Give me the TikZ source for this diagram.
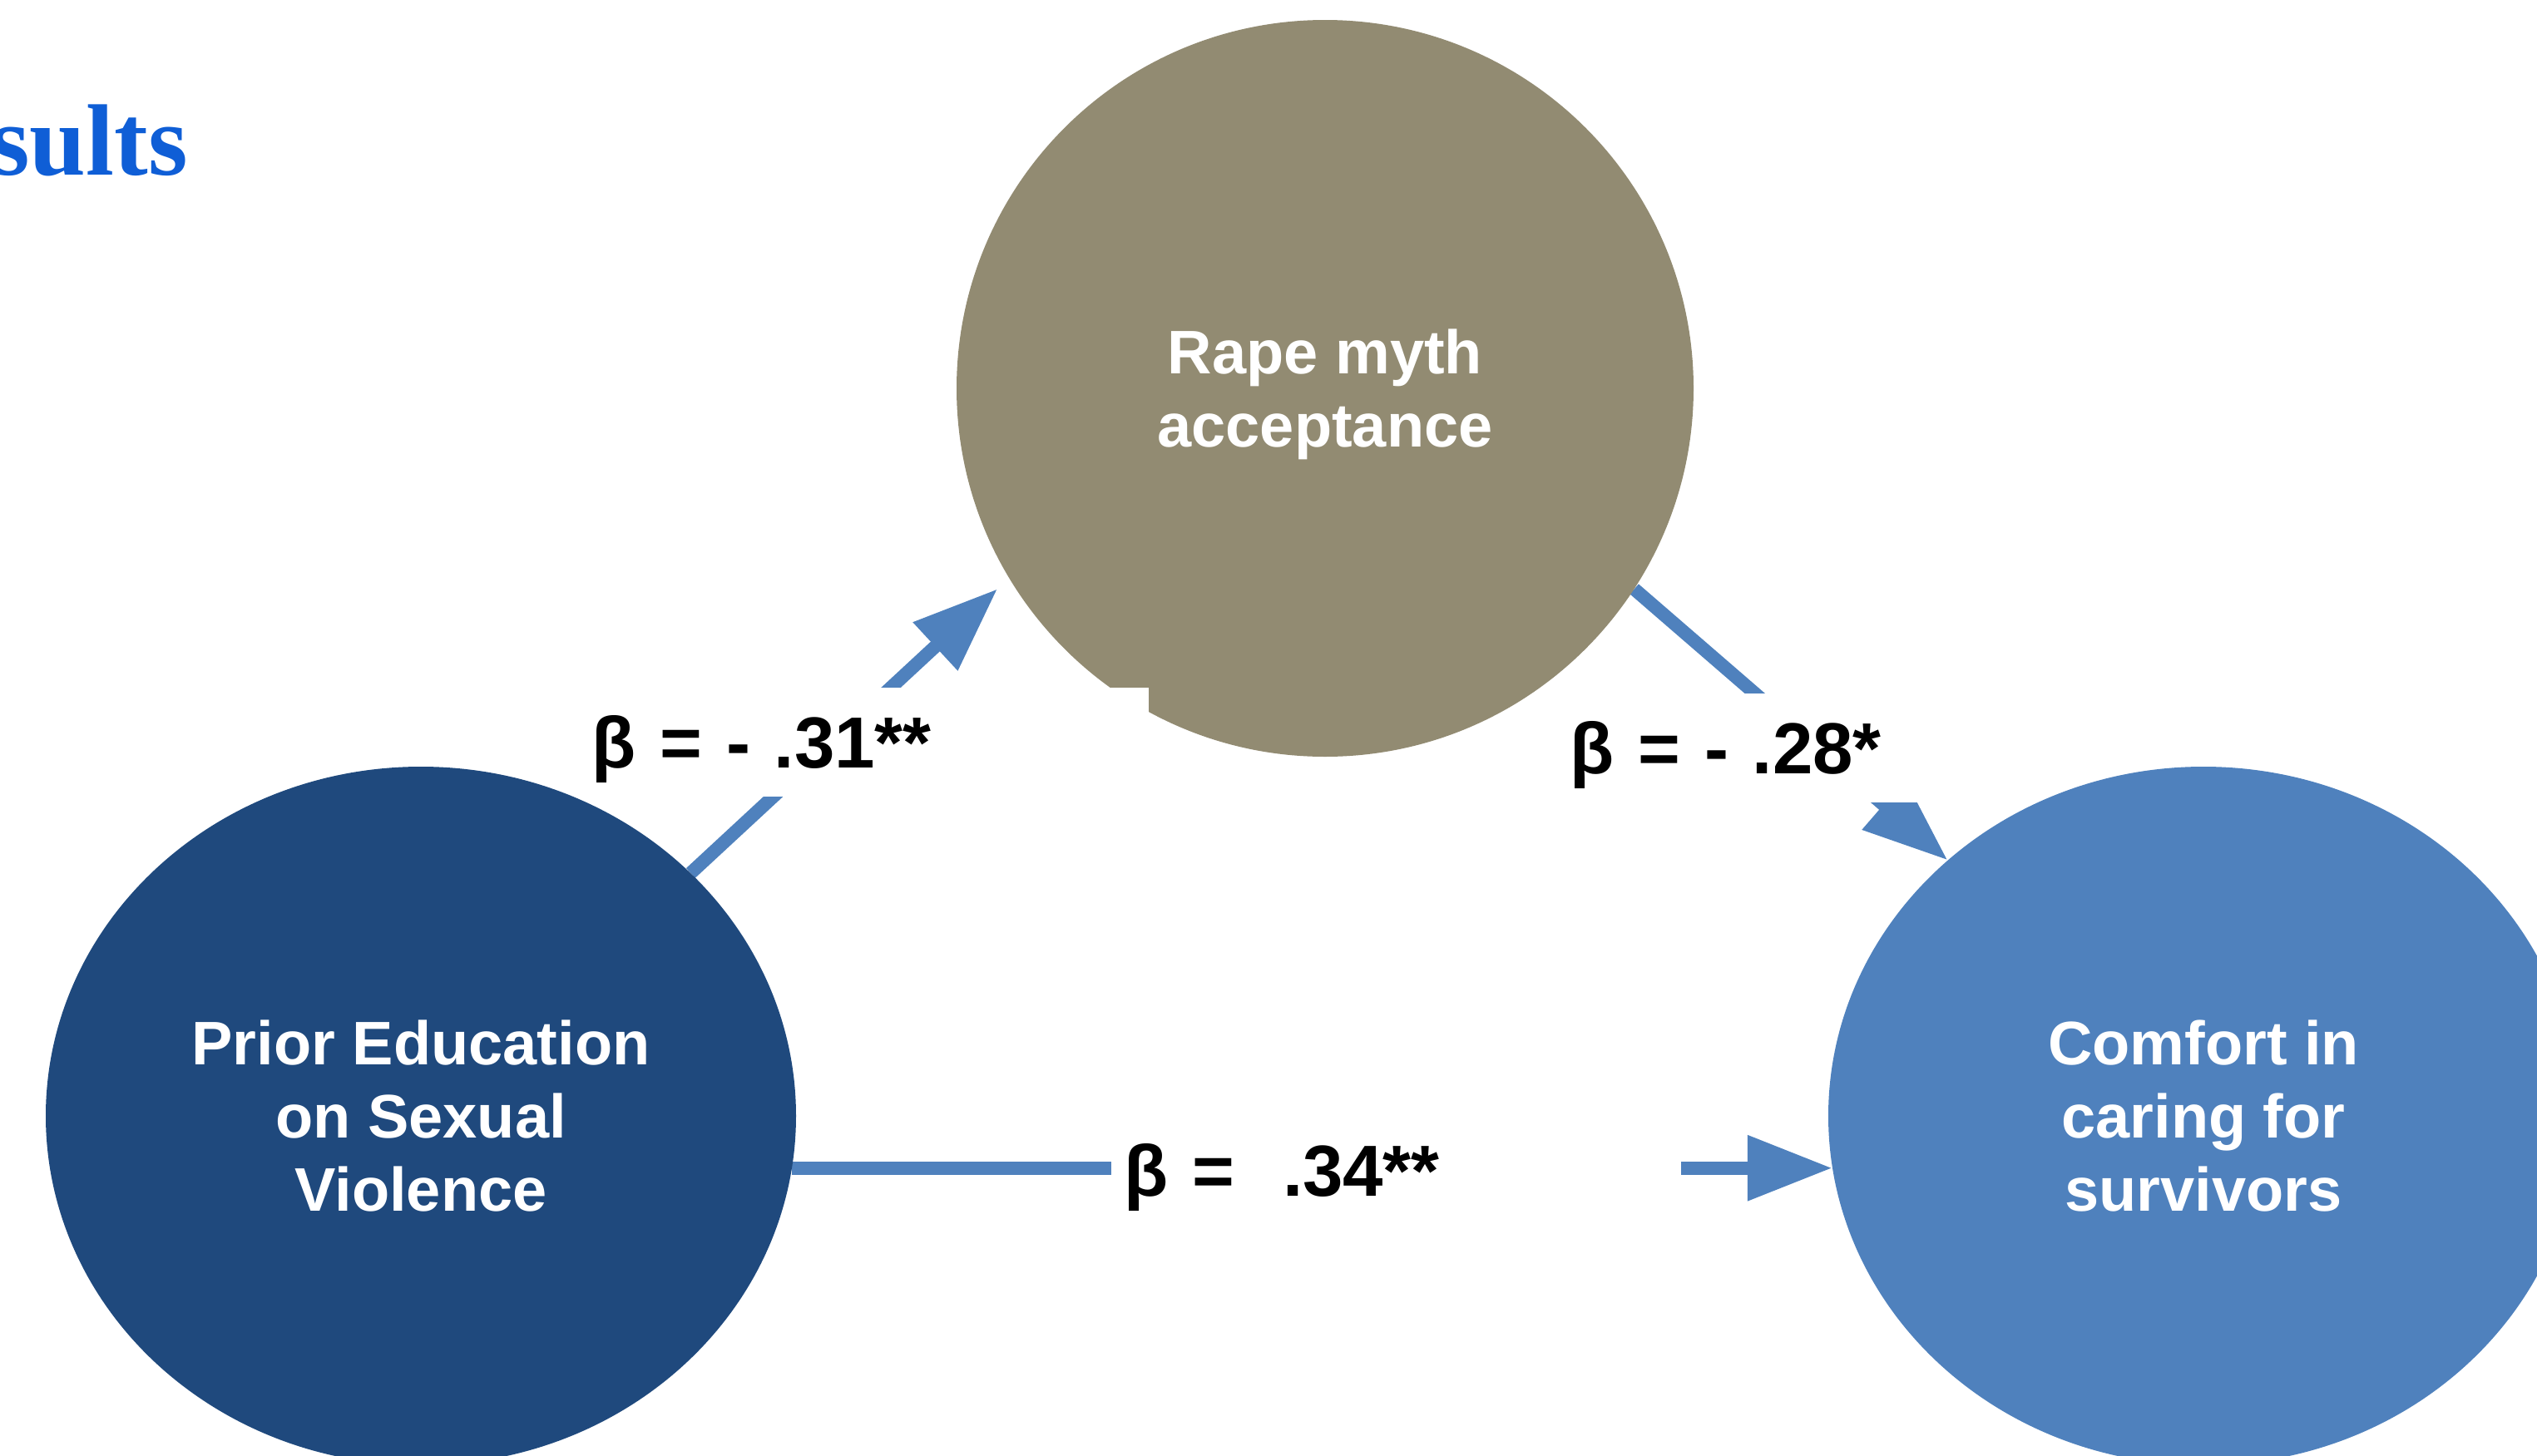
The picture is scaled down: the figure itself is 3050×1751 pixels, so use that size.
\documentclass[tikz,border=0pt]{standalone}
\usepackage{fontspec}
\setmainfont{Liberation Sans}
\newfontfamily\titlefont{Liberation Serif}
\usetikzlibrary{arrows.meta,shapes.geometric,backgrounds}
\definecolor{mythgray}{RGB}{146,139,114}
\definecolor{educblue}{RGB}{31,73,125}
\definecolor{comfblue}{RGB}{79,129,189}
\definecolor{titleblue}{RGB}{15,94,214}

\begin{document}
\begin{tikzpicture}[x=1pt,y=-1pt,
    bubble/.style={inner sep=0pt,text=white,align=center,font=\bfseries\fontsize{74}{88}\selectfont},
    effect/.style={draw=comfblue,line width=16pt,-{Triangle[length=102pt,width=75pt]}},
    coef/.style={fill=white,anchor=north west,inner xsep=15pt,inner ysep=0pt,text height=96pt,text depth=35pt,
                 text width=655pt,align=left,font=\bfseries\fontsize{87}{100}\selectfont}]
    \useasboundingbox (0,0) rectangle (3050,1751);
    \clip (0,0) rectangle (3050,1751);
    % titre
    \node[font=\titlefont\bfseries\fontsize{122}{130}\selectfont,text=titleblue,anchor=base east,inner sep=0pt] (heading) at (226,210) {sults};
    % les trois variables
    \node[bubble,circle,fill=mythgray,minimum size=886pt,text depth=0pt] (myth) at (1593,467) {Rape myth\\acceptance};
    \node[bubble,ellipse,fill=educblue,minimum width=902pt,minimum height=840pt] (educ) at (506,1342) {Prior Education\\on Sexual\\Violence};
    \node[bubble,ellipse,fill=comfblue,minimum width=902pt,minimum height=840pt] (comf) at (2649,1342) {Comfort in\\caring for\\survivors};
    % fleches
    \begin{scope}[on background layer]
        \draw[effect,shorten >=19pt] (educ.42.2) -- (myth.211.6);
        \draw[effect] (myth.-33.3) -- (comf.135.6);
        \draw[effect] (educ.-8.2) -- (comf.188.2);
    \end{scope}
    % coefficients
    \node[coef] (c1) at (696,827) {β = - .31**};
    \node[coef,text width=530pt] (c2) at (1872,834) {β = - .28*};
    \node[coef] (c3) at (1336,1342) {β =~ .34**};
\end{tikzpicture}
\end{document}
